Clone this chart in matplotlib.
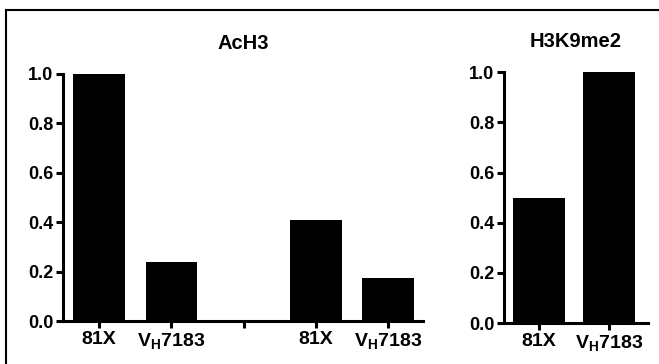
import matplotlib
matplotlib.use("Agg")
import matplotlib.pyplot as plt
from matplotlib.lines import Line2D

plt.rcParams['font.family'] = ['Liberation Sans', 'DejaVu Sans']
plt.rcParams['font.weight'] = 'bold'
plt.rcParams['mathtext.fontset'] = 'custom'
plt.rcParams['mathtext.rm'] = 'Liberation Sans:bold'
plt.rcParams['mathtext.default'] = 'rm'

# ----------------- Data -----------------
vh = r"V$_{\rm H}$7183"
ach3_labels = ["81X", vh, "", "81X", vh]
ach3_values = [1.0, 0.24, None, 0.41, 0.175]
k9_labels = ["81X", vh]
k9_values = [0.50, 1.0]
yticks = [0.0, 0.2, 0.4, 0.6, 0.8, 1.0]

fig = plt.figure(figsize=(6.59, 3.64), dpi=100)
ax1 = fig.add_axes([0.0956, 0.118, 0.546, 0.679])
ax2 = fig.add_axes([0.765, 0.1126, 0.218, 0.689])

def style(ax, labels, title, xmax):
    for s in ["top", "right"]:
        ax.spines[s].set_visible(False)
    for s in ["left", "bottom"]:
        ax.spines[s].set_linewidth(2.2)
    ax.set_ylim(0, 1.0)
    ax.set_xlim(-0.5, xmax)
    ax.set_yticks(yticks)
    ax.set_yticklabels([f"{t:.1f}" for t in yticks], fontsize=13, fontweight="bold")
    ax.set_xticks(range(len(labels)))
    ax.set_xticklabels(labels, fontsize=14, fontweight="bold")
    ax.tick_params(axis="both", direction="out", length=5, width=2.2, pad=2)
    ax.set_title(title, fontsize=14.5, fontweight="bold", pad=18)

xs = [i for i, v in enumerate(ach3_values) if v is not None]
ax1.bar(xs, [ach3_values[i] for i in xs], width=0.71, color="black")
style(ax1, ach3_labels, "AcH3", 4.48)

ax2.bar(range(len(k9_values)), k9_values, width=0.74, color="black")
style(ax2, k9_labels, "H3K9me2", 1.55)

# frame lines of the scanned figure
fig.add_artist(Line2D([6 / 659, 6 / 659], [0, 1 - 10 / 364], color="black", lw=1.5, transform=fig.transFigure))
fig.add_artist(Line2D([6 / 659, 1], [1 - 10 / 364, 1 - 10 / 364], color="black", lw=1.5, transform=fig.transFigure))

fig.savefig("out.png", dpi=100)
